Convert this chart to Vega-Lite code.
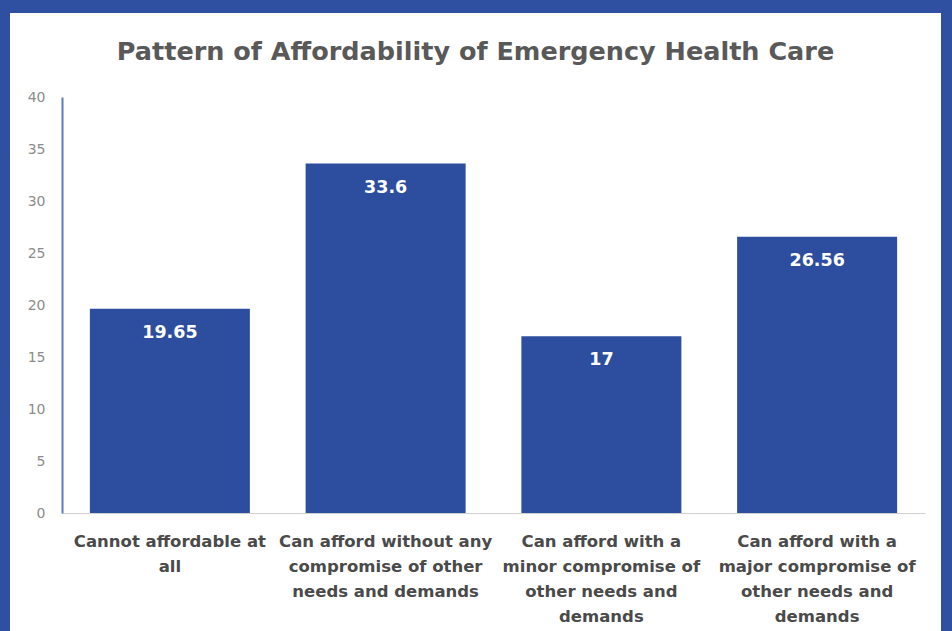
{
  "$schema": "https://vega.github.io/schema/vega-lite/v6.json",
  "autosize": {"type": "none"},
  "width": 931,
  "height": 618,
  "padding": {"left": 10, "top": 13, "right": 11, "bottom": 0},
  "background": "#2F50A0",
  "config": {
    "view": {"fill": "white", "stroke": null},
    "font": "DejaVu Sans"
  },
  "title": {
    "text": "Pattern of Affordability of Emergency Health Care",
    "fontSize": 25.5,
    "fontWeight": "bold",
    "color": "#595959",
    "font": "DejaVu Sans",
    "anchor": "middle",
    "offset": -52
  },
  "data": {
    "values": [
      {"category": "Cannot affordable at all", "percent": 19.65},
      {"category": "Can afford without any compromise of other needs and demands", "percent": 33.6},
      {"category": "Can afford with a minor compromise of other needs and demands", "percent": 17},
      {"category": "Can afford with a major compromise of other needs and demands", "percent": 26.56}
    ]
  },
  "encoding": {
    "x": {
      "field": "category",
      "type": "nominal",
      "sort": null,
      "scale": {"range": [52, 915], "paddingInner": 0.2584, "paddingOuter": 0.1292},
      "axis": {
        "title": null,
        "offset": -118,
        "labelAngle": 0,
        "ticks": false,
        "tickSize": 0,
        "domainColor": "#D0D0D0",
        "domainWidth": 1,
        "labelColor": "#4A4A4A",
        "labelFont": "DejaVu Sans",
        "labelFontWeight": "bold",
        "labelFontSize": 16.5,
        "labelLineHeight": 25,
        "labelPadding": 20,
        "labelLimit": 0,
        "labelOverlap": false,
        "labelExpr": "datum.value == 'Cannot affordable at all' ? ['Cannot affordable at', 'all'] : datum.value == 'Can afford without any compromise of other needs and demands' ? ['Can afford without any', 'compromise of other', 'needs and demands'] : datum.value == 'Can afford with a minor compromise of other needs and demands' ? ['Can afford with a', 'minor compromise of', 'other needs and', 'demands'] : ['Can afford with a', 'major compromise of', 'other needs and', 'demands']"
      }
    },
    "y": {
      "field": "percent",
      "type": "quantitative",
      "scale": {"domain": [0, 40], "range": [500, 84], "nice": false},
      "axis": {
        "title": null,
        "offset": -52,
        "values": [0, 5, 10, 15, 20, 25, 30, 35, 40],
        "grid": false,
        "ticks": false,
        "tickSize": 0,
        "domainColor": "#5B7DC0",
        "domainWidth": 2,
        "labelColor": "#8C8C8C",
        "labelFont": "DejaVu Sans",
        "labelFontSize": 14,
        "labelPadding": 17
      }
    }
  },
  "layer": [
    {"mark": {"type": "bar", "color": "#2D4E9F"}},
    {
      "mark": {"type": "text", "color": "white", "font": "DejaVu Sans", "fontWeight": "bold", "fontSize": 17.5, "baseline": "middle", "dy": 24},
      "encoding": {"text": {"field": "percent", "type": "quantitative"}}
    }
  ]
}
